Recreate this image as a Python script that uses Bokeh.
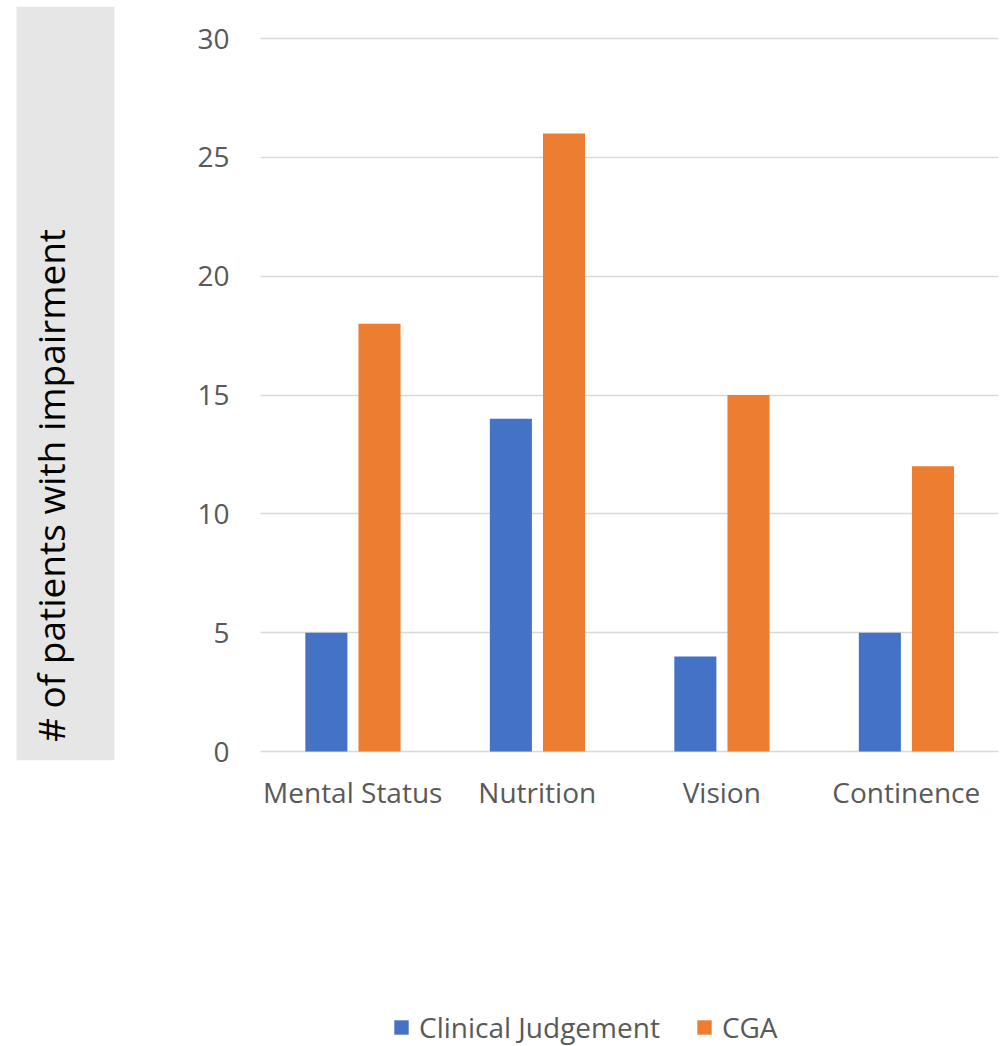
from bokeh.plotting import figure
from bokeh.models import ColumnDataSource, FactorRange, Range1d, Legend, LegendItem, FixedTicker
from bokeh.transform import dodge
from bokeh.layouts import row, column
from bokeh.embed import file_html
from bokeh.resources import INLINE
from bokeh.core.properties import value

categories = ["Mental Status", "Nutrition", "Vision", "Continence"]
clinical = [5, 14, 4, 5]
cga = [18, 26, 15, 12]
series_names = ["Clinical Judgement", "CGA"]
colors = ["#4472C4", "#ED7D31"]
y_ticks = [0, 5, 10, 15, 20, 25, 30]
y_title = "# of patients with impairment"

FONT = "Open Sans"
TXT = "#595959"
TOP_H = 986
LEG_H = 60

# geometry of the main frame (pixels)
f_top, f_bot = 6, 760
y0_px, y30_px = 751, 38
ppu = (y0_px - y30_px) / 30.0
y_lo = -(f_bot - y0_px) / ppu
y_hi = 30 + (y30_px - f_top) / ppu

# left panel with grey title box (frame aligned with the main frame)
left = figure(width=120, height=TOP_H, output_backend="svg", toolbar_location=None,
              x_range=Range1d(0, 120), y_range=Range1d(f_bot, f_top),
              min_border_left=0, min_border_right=0, min_border_top=f_top,
              min_border_bottom=TOP_H - f_bot, outline_line_color=None,
              x_axis_location=None, y_axis_location=None)
left.grid.visible = False
left.quad(left=[16], right=[114], top=[f_top], bottom=[f_bot], fill_color="#E6E6E6", line_color=None)
left.text(x=[50], y=[485], text=[y_title], angle=1.5707963, text_align="center",
          text_baseline="middle", text_font=value(FONT), text_font_size="37px", text_color="#000000")

src = ColumnDataSource(dict(cat=categories, clinical=clinical, cga=cga))
p = figure(width=881, height=TOP_H, output_backend="svg", toolbar_location=None,
           x_range=FactorRange(*categories), y_range=Range1d(y_lo, y_hi),
           min_border_left=140, min_border_right=3, min_border_top=f_top,
           min_border_bottom=TOP_H - f_bot, outline_line_color=None)
r1 = p.vbar(x=dodge("cat", -0.143, range=p.x_range), top="clinical", width=0.228, source=src,
            fill_color=colors[0], line_color=None)
r2 = p.vbar(x=dodge("cat", 0.145, range=p.x_range), top="cga", width=0.228, source=src,
            fill_color=colors[1], line_color=None)
r1.level = "overlay"
r2.level = "overlay"

p.yaxis.ticker = FixedTicker(ticks=y_ticks)
p.ygrid.grid_line_color = "#D9D9D9"
p.ygrid.grid_line_width = 1.5
p.xgrid.visible = False
p.yaxis.axis_line_color = None
p.yaxis.major_tick_line_color = None
p.yaxis.minor_tick_line_color = None
p.yaxis.major_label_standoff = 25
p.xaxis.axis_line_color = None
p.xaxis.major_tick_line_color = None
p.xaxis.minor_tick_line_color = None
p.xaxis.major_label_standoff = 6
for ax in (p.xaxis, p.yaxis):
    ax.major_label_text_font = FONT
    ax.major_label_text_font_size = "28px"
    ax.major_label_text_color = TXT

# legend panel
legfig = figure(width=1001, height=LEG_H, output_backend="svg", toolbar_location=None,
                x_range=Range1d(0, 1), y_range=Range1d(0, 1), min_border=0,
                outline_line_color=None, x_axis_location=None, y_axis_location=None)
legfig.grid.visible = False
hidden = ColumnDataSource(dict(x=[5.0], top=[5.0]))
g1 = legfig.vbar(x="x", top="top", bottom=4.0, width=0.1, source=hidden, fill_color=colors[0], line_color=None)
g2 = legfig.vbar(x="x", top="top", bottom=4.0, width=0.1, source=hidden, fill_color=colors[1], line_color=None)
legend = Legend(items=[LegendItem(label=series_names[0], renderers=[g1]),
                       LegendItem(label=series_names[1], renderers=[g2])],
                orientation="horizontal", location=(392, 0),
                glyph_width=18, glyph_height=18, spacing=35, label_standoff=9,
                padding=0, margin=0, border_line_color=None, background_fill_alpha=0,
                label_text_font=FONT, label_text_font_size="28px", label_text_color=TXT)
legfig.add_layout(legend, "center")

layout = column(row(left, p), legfig)
open("out.html", "w").write(file_html(layout, INLINE))
